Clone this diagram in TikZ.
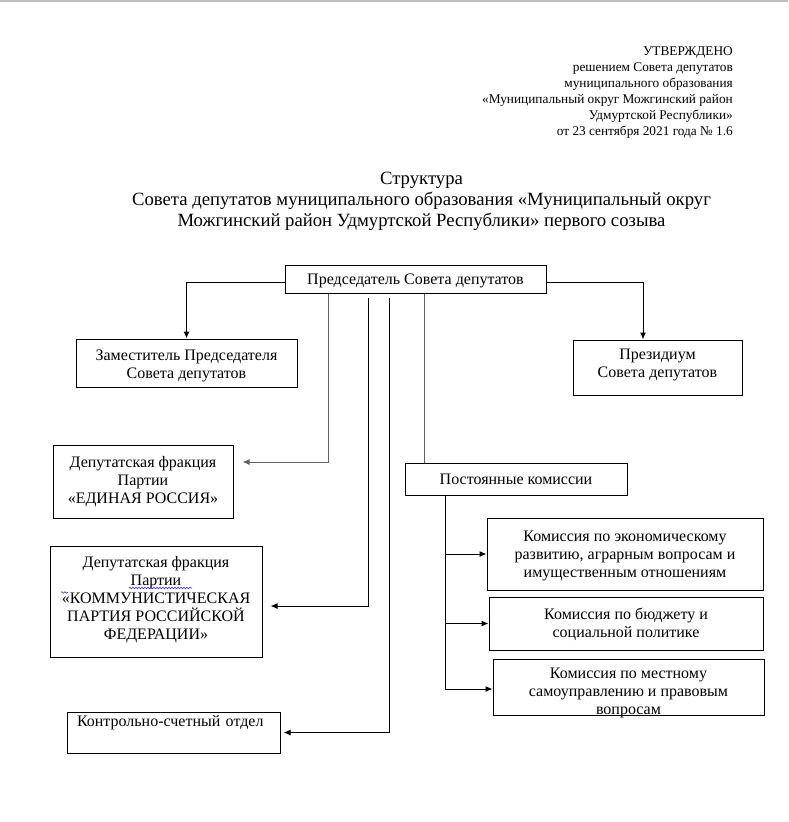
\documentclass[tikz,border=0pt]{standalone}
\usepackage{fontspec}
\setmainfont{Liberation Serif}
\usepackage{tikz}
\usetikzlibrary{arrows.meta, positioning, decorations.pathmorphing}

\tikzset{
	unit/.style={draw, line width=1pt, align=center, inner sep=0pt,
		font=\fontsize{16}{18}\selectfont},
	unittext/.style={align=center, inner sep=0pt,
		font=\fontsize{16}{18}\selectfont},
	link/.style={line width=1pt},
	linkgray/.style={line width=1pt, black!62},
}

\begin{document}
\begin{tikzpicture}[x=1pt, y=-1pt, >={Latex[length=7pt, width=6pt]}]

	\useasboundingbox (0,0) rectangle (788,822);
	\draw[black!25, line width=1.5pt] (0,0.75) -- (788,0.75);

	% approval stamp
	\node (stamp) [anchor=north east, align=right, inner sep=0pt,
		font=\fontsize{13.3}{16}\selectfont] at (733,46)
		{УТВЕРЖДЕНО\\решением Совета депутатов\\муниципального образования\\
		«Муниципальный округ Можгинский район\\Удмуртской Республики»\\
		от 23 сентября 2021 года № 1.6};

	% title
	\node (title) [anchor=north, align=center, inner sep=0pt,
		font=\fontsize{18.7}{21}\selectfont] at (421.5,171.5)
		{Структура\\Совета депутатов муниципального образования «Муниципальный округ\\
		Можгинский район Удмуртской Республики» первого созыва};

	% boxes
	\node (chair) [unit, minimum width=261, minimum height=28,
		label={[unittext, yshift=-2pt]center:Председатель Совета депутатов}]
		at (415.5,279) {};
	\node (zam) [unit, minimum width=221, minimum height=48,
		label={[unittext, yshift=-3pt]center:{Заместитель Председателя\\Совета депутатов}}]
		at (186.5,363) {};
	\node (prez) [unit, minimum width=169, minimum height=55,
		label={[unittext, yshift=3pt]center:{Президиум\\Совета депутатов}}]
		at (657.5,367.5) {};
	\node (er) [unit, minimum width=180, minimum height=73] at (143,481.5)
		{Депутатская фракция\\Партии\\«ЕДИНАЯ РОССИЯ»};
	\node (kprf) [unit, minimum width=212, minimum height=111,
		label={[unittext, yshift=2pt]center:{Депутатская фракция\\Партии\\«КОММУНИСТИЧЕСКАЯ\\ПАРТИЯ РОССИЙСКОЙ\\ФЕДЕРАЦИИ»}}]
		at (156,601.5) {};
	\node (kso) [unit, minimum width=213, minimum height=41, text width=193,
		align=left] at (173.5,732.5)
		{Контрольно-счетный отдел\\ \strut};
	\node (pk) [unit, minimum width=222, minimum height=32] at (516,479)
		{Постоянные комиссии};
	\node (k1) [unit, minimum width=276, minimum height=72,
		label={[unittext, yshift=-1.5pt]center:{Комиссия по экономическому\\развитию, аграрным вопросам и\\имущественным отношениям}}]
		at (625,554) {};
	\node (k2) [unit, minimum width=274, minimum height=53,
		label={[unittext, yshift=-1pt]center:{Комиссия по бюджету и\\социальной политике}}]
		at (626,623.5) {};
	\node (k3) [unit, minimum width=271, minimum height=56,
		label={[unittext, yshift=-5.5pt]center:{Комиссия по местному\\самоуправлению и правовым\\вопросам}}]
		at (628.5,687) {};

	% spell-check marks
	\draw[blue!80, line width=0.6pt, decorate,
		decoration={snake, amplitude=0.8pt, segment length=3pt}]
		(129,588) -- (192,588);
	\draw[blue!80, line width=0.6pt, decorate,
		decoration={snake, amplitude=0.8pt, segment length=3pt}]
		(61,592.5) -- (68,592.5);

	% connectors
	\draw[link, ->] ([yshift=-3pt]chair.west) -| (zam.north);
	\draw[link, ->] ([yshift=-3pt]chair.east) -| ([xshift=-14.5pt]prez.north);
	\draw[linkgray, ->] ([xshift=-87.5pt]chair.south) |- ([xshift=9pt, yshift=19.5pt]er.east);
	\draw[link, ->] ([xshift=-47.5pt, yshift=-4pt]chair.south) |- ([xshift=8pt, yshift=-4.5pt]kprf.east);
	\draw[link, ->] ([xshift=-26.5pt, yshift=-4pt]chair.south) |- ([xshift=3pt]kso.east);
	\draw[linkgray] ([xshift=8.5pt]chair.south) -- ([xshift=8.5pt]chair.south |- pk.north);

	\coordinate (trunk) at ([xshift=-71pt]pk.south);
	\draw[link, ->] (trunk) |- ([yshift=-2pt]k3.west);
	\foreach \k in {k1,k2}
		\draw[link, ->] (trunk |- \k.west) -- (\k.west);

\end{tikzpicture}
\end{document}
